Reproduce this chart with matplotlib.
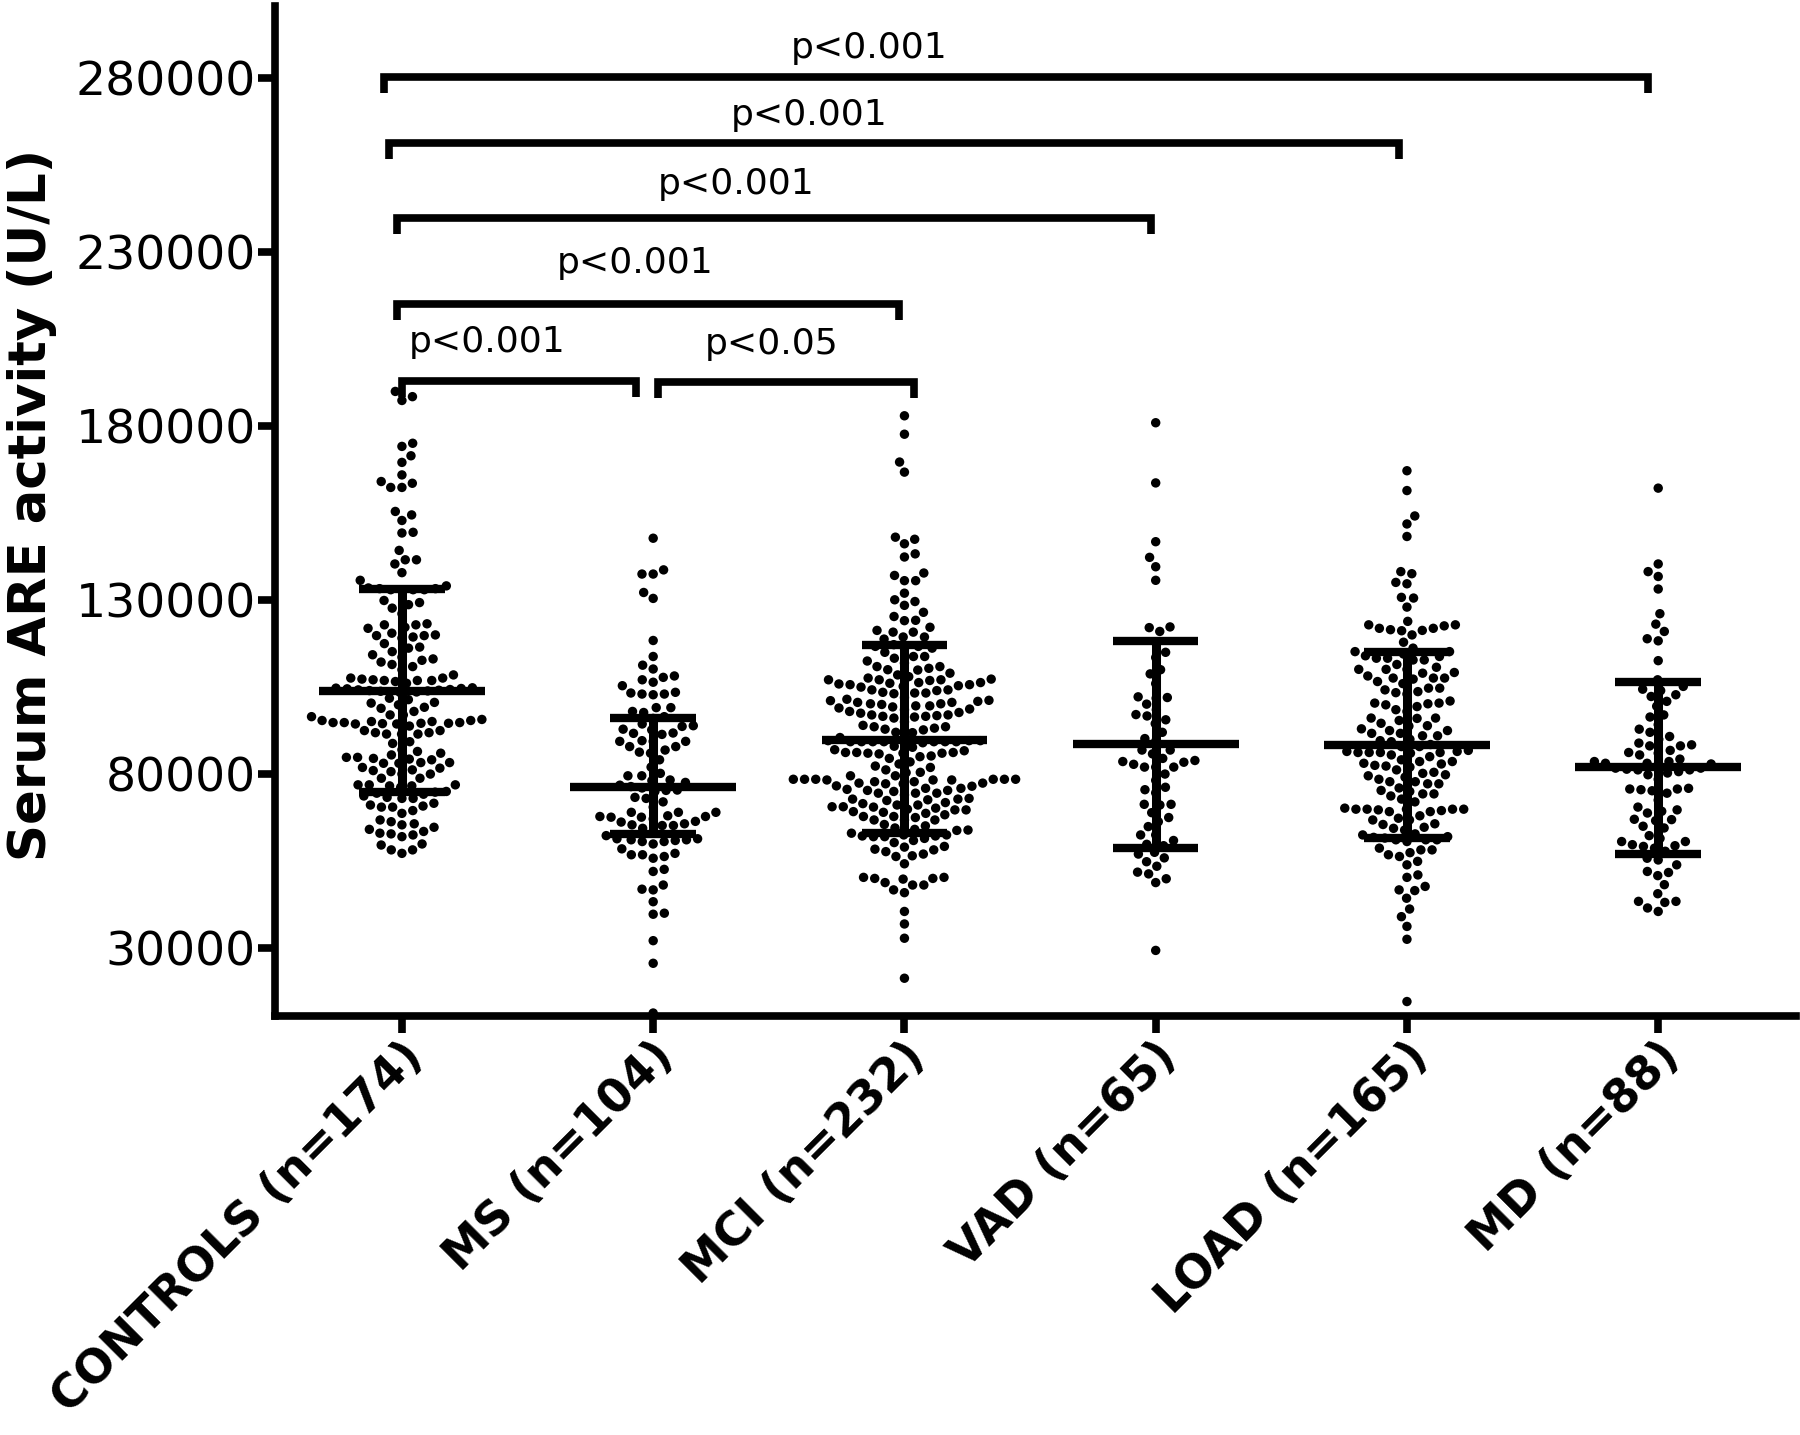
import numpy as np
import matplotlib.pyplot as plt
from matplotlib.transforms import ScaledTranslation

plt.rcParams['font.family'] = ['DejaVu Sans']

groups = ["CONTROLS (n=174)", "MS (n=104)", "MCI (n=232)",
          "VAD (n=65)", "LOAD (n=165)", "MD (n=88)"]

# serum ARE activity of every subject (thousands of U/L)
controls = [190.0, 188.5, 187.4,
            175.1, 174.2, 171.5, 169.6, 166.0, 164.1, 163.6, 162.4, 162.4,
            155.5, 154.5, 152.9, 149.5, 149.3, 144.3, 141.6, 141.6, 140.4, 137.9, 135.7,
            134.1, 133.5, 133.3, 133.3, 133.0, 133.0, 133.0, 133.0,
            129.9, 129.3, 128.7, 127.7, 126.1,
            123.2, 122.9, 122.9, 122.2, 121.9, 120.5, 120.0, 119.8, 119.8, 119.4, 119.1,
            116.5, 116.2, 115.2, 114.3, 113.6, 113.1, 112.7, 112.2, 110.9, 110.0,
            108.5, 107.6, 107.6, 107.3, 107.1, 106.9, 106.9, 106.9, 106.6, 106.1,
            104.8, 104.7, 104.6, 104.5, 104.3, 104.2, 104.1, 104.0, 103.9, 103.8, 103.6, 103.5,
            101.8, 101.4, 100.6, 100.4, 99.9, 99.2, 98.9,
            97.0, 97.0,
            96.5, 95.7, 95.4, 95.4, 95.1, 95.1, 94.8, 94.8, 94.8, 94.6, 94.6, 94.5, 94.4, 94.4, 93.8,
            92.5, 91.9, 91.9, 91.5, 91.5, 91.5,
            89.3, 88.8,
            86.5, 86.0, 85.5, 84.8, 84.8, 84.5, 84.3, 84.1, 83.3, 83.3, 83.1, 83.1,
            81.9, 81.7, 81.2, 81.0, 80.7, 80.0,
            78.8, 78.8,
            76.9, 76.9, 76.9, 76.6, 76.6, 76.2,
            75.0, 74.8, 74.5, 74.2, 73.7, 73.3, 73.0, 73.0,
            71.6, 71.1, 70.8, 70.5, 70.5,
            69.5, 68.7, 66.8, 66.3,
            65.7, 65.4, 64.7, 64.1, 63.5, 63.0, 62.8, 62.5, 62.0,
            59.9, 59.6, 58.2, 58.2, 57.2,
            117.5, 111.5, 98.0, 92.5, 87.0, 80.0]

ms = [147.8, 138.7, 137.5, 137.5, 132.2, 130.5, 118.4, 113.8, 111.3, 110.2,
      108.2, 107.8, 107.1, 106.4, 105.4,
      103.5, 103.3, 103.0, 103.0, 102.8,
      99.1, 99.1, 98.0, 97.7,
      96.5, 96.0, 94.4, 93.9, 93.7, 92.9, 92.7, 91.8,
      91.7, 91.4, 89.6, 89.4, 89.4, 89.4,
      87.9, 87.9, 86.9, 86.3, 86.0, 84.1,
      80.2, 79.5, 79.5, 78.3, 78.1, 77.6,
      76.8, 76.4, 76.0, 75.4, 75.3, 75.0,
      73.3, 73.0, 70.5,
      69.0, 69.0, 69.0, 67.8, 67.8, 67.6, 67.6, 67.1, 66.4, 66.2, 65.7, 65.4, 65.2, 65.2, 64.4,
      63.3, 62.3,
      61.4, 61.4, 61.1, 61.1, 60.9, 60.6, 60.6, 59.9,
      57.2, 56.8, 56.8, 56.3, 55.8,
      52.6, 52.0, 48.1, 46.9, 46.7, 43.3, 40.0, 39.7, 32.1, 25.6, 11.3,
      82.0, 72.0, 68.0, 58.5]

mci = [183.0, 177.7, 169.7, 166.8,
       148.1, 147.5, 146.2, 143.3, 142.4,
       137.8, 137.1, 135.6, 135.6,
       132.0, 130.1, 129.6, 128.5, 126.5,
       125.3, 124.2, 124.1,
       122.2, 121.3, 120.8, 120.8, 119.4, 119.4,
       118.8, 117.2, 116.7, 116.7, 116.2, 116.2,
       113.8, 113.8, 113.3, 111.9,
       110.9, 110.9,
       110.4, 109.9, 109.0,
       108.0, 107.6, 107.3, 107.1, 107.1, 107.1, 106.9, 106.3, 106.3, 106.1, 105.9,
       105.7, 105.7, 105.4, 105.2, 104.2, 104.2, 104.0, 103.3, 103.3, 103.1,
       101.5, 101.2, 101.1, 100.9, 100.6, 100.6, 100.2, 100.2, 99.6, 99.6, 99.3,
       99.0, 98.7, 98.0, 97.7, 97.5, 97.0, 96.8, 96.6, 96.6, 96.4, 96.1,
       93.6, 93.6, 93.2, 92.9, 92.7, 91.9,
       89.8, 89.6, 89.6, 89.6, 89.3, 89.3, 89.3, 89.3, 89.3, 89.3, 89.3, 89.0,
       87.7, 86.7, 86.2, 86.2, 86.2, 86.0, 86.0, 86.0, 85.8, 85.2, 84.5,
       82.9, 82.3, 81.9,
       81.2, 80.4, 79.5, 78.5, 78.5, 78.5, 78.5, 78.5, 78.5, 78.3, 78.3, 78.3,
       77.8, 77.8, 77.4, 77.4, 77.2, 77.2,
       76.6, 75.9, 75.9, 75.6, 75.3, 75.3, 75.0, 74.5, 74.5, 74.0,
       72.8, 72.8, 72.6, 72.4, 71.8, 71.1, 71.1, 70.6, 70.6, 70.5, 70.2, 69.9,
       69.7, 69.7, 69.2, 68.7, 68.3, 67.8, 67.8, 66.8, 66.8, 66.8,
       65.1, 64.1, 63.9, 63.8, 63.0, 62.5, 62.5, 62.2, 62.2, 62.0, 62.0,
       61.5, 60.9, 60.3,
       59.2, 59.0, 58.4, 58.2, 57.7, 57.0, 56.5, 56.3,
       54.2,
       50.3, 50.3, 50.0, 50.0, 49.8, 48.8, 48.1, 48.1, 46.7, 45.9,
       40.5, 36.9, 32.8, 21.3,
       115.0, 112.5, 110.0, 108.5, 105.0, 103.5, 102.0, 100.0, 98.5, 97.0,
       95.0, 94.0, 92.0, 90.5, 88.0, 87.0, 85.0, 83.5, 80.5, 79.5,
       76.5, 74.5, 73.0, 71.5, 69.0, 67.5, 65.5, 64.5]

vad = [181.0, 163.7, 146.8, 142.3, 139.6, 135.7,
       122.3, 122.1, 121.0,
       115.0, 113.5, 110.0, 108.8,
       102.2, 102.0, 101.8, 100.1,
       97.1, 96.7, 95.6, 94.5,
       90.2, 89.4, 86.9, 86.9,
       85.8, 84.5, 83.9, 83.6, 83.4, 82.8, 82.0, 82.0, 82.0,
       78.2, 76.2, 74.6, 71.3, 71.3, 71.1, 68.9, 66.3, 64.9,
       62.5, 62.5, 60.9, 59.8, 59.4,
       57.0, 55.9, 54.8, 53.5, 51.8, 51.3, 49.9, 48.8, 29.3,
       118.0, 106.0, 98.5, 92.0, 80.0, 75.5, 67.5, 57.5]

load = [167.2, 161.5, 154.2, 151.9, 148.3, 138.2, 137.6, 135.1, 134.7, 130.8, 130.6, 128.0,
        123.9, 122.9, 122.9, 122.6, 121.9, 121.9, 121.5, 121.3, 121.2, 120.0,
        117.9,
        116.2, 115.2, 115.2, 114.0, 113.8, 113.3, 113.3, 112.8, 112.8,
        110.7, 110.1, 110.1, 110.1, 109.2,
        108.2, 107.6, 107.6, 107.6, 107.3, 106.6,
        104.7, 104.7, 104.2, 103.7, 103.4,
        100.4, 100.4, 100.2, 99.9, 99.4, 98.0,
        96.1, 96.1, 95.4, 94.6, 93.9,
        93.8, 92.5, 92.5, 91.7, 91.7, 91.0, 91.0,
        89.6, 89.3, 87.9, 87.9, 86.8, 86.5, 86.5, 86.2, 86.2, 86.2, 86.2, 86.0, 85.5,
        84.1, 83.6, 83.6, 83.1, 82.9, 82.3, 82.0, 81.2,
        80.2, 79.8, 79.5, 79.1, 77.8, 77.8, 77.2, 77.2,
        75.3, 75.0, 74.3, 74.3, 73.7, 72.8,
        70.2, 69.9, 69.9, 69.9, 69.9, 69.9, 69.7, 69.5, 69.2, 69.2,
        67.3, 66.8, 66.8, 65.7,
        64.7, 64.4, 63.9,
        62.8, 62.5, 62.0, 61.8, 61.6, 61.1, 61.1, 61.1, 60.6,
        58.7, 58.2, 58.2, 57.4, 56.8, 56.3,
        54.9, 53.9, 51.0, 50.3,
        47.7, 46.7, 46.5, 44.3, 41.2, 39.0, 36.2, 32.5, 14.6,
        114.5, 111.5, 109.0, 106.0, 103.0, 101.0, 98.5, 96.0, 93.0, 90.0,
        88.5, 85.0, 82.5, 80.5, 78.5, 76.0, 72.0, 68.0, 65.5]

md = [162.2, 140.4, 138.2, 136.8, 133.2, 126.1, 123.1, 121.0, 118.9, 118.3, 112.6,
      107.1, 105.2, 104.4, 102.8, 102.3, 100.9,
      97.0, 96.4, 94.2, 92.9,
      90.8, 90.0, 88.9, 88.4, 88.1, 88.1,
      86.8, 86.2, 85.5,
      84.3, 83.6, 83.6, 83.1, 83.1, 82.9, 82.7, 81.7, 81.7, 81.4, 81.2, 81.2, 80.7, 80.3, 79.8,
      75.9, 75.7, 75.7, 75.5, 75.2, 74.5,
      70.5, 69.7, 69.3, 68.8, 67.0, 66.9, 66.6, 64.5,
      62.3, 60.6, 60.6, 59.7, 59.4, 59.2, 58.7, 57.8,
      55.8, 55.3, 53.9,
      52.0, 51.7, 50.8,
      48.2, 45.6,
      43.4, 43.4, 43.1, 41.5, 40.5,
      104.0, 99.5, 92.0, 86.0, 78.5, 72.5, 65.0, 61.5]

# centre line and whisker ends of each group (thousands of U/L)
centre = [104.0, 76.4, 89.8, 88.5, 88.4, 82.0]
low = [74.8, 62.8, 63.0, 58.7, 61.6, 57.0]
high = [133.3, 96.0, 117.0, 118.2, 115.2, 106.6]

# comparisons: (left group, right group, label) and bracket height (thousands of U/L)
pairs = [(0, 5, "p<0.001"), (0, 4, "p<0.001"), (0, 3, "p<0.001"),
         (0, 2, "p<0.001"), (0, 1, "p<0.001"), (1, 2, "p<0.05")]
bracket_y = [280.4, 261.3, 239.9, 215.1, 193.0, 192.7]

values = [controls, ms, mci, vad, load, md]

fig = plt.figure(figsize=(18, 14.35), dpi=100)
ax = fig.add_axes([0.1528, 0.292, 0.8452, 0.7038])
ax.set_xlim(-0.505, 5.55)
ax.set_ylim(10450, 300800)


def swarm(xc, vals, d=11.2):
    # spread points sideways (in pixels) so the dots do not overlap
    pts = ax.transData.transform(np.column_stack([np.full(len(vals), xc), vals]))
    ys = pts[:, 1]
    xs = np.zeros(len(vals))
    placed = []
    for k, i in enumerate(np.argsort(ys)):
        y = ys[i]
        near = [(px, py) for px, py in placed if abs(py - y) < d]
        cands = [0.0]
        for px, py in near:
            dx = np.sqrt(d * d - (py - y) ** 2)
            cands += [px + dx, px - dx]
        side = 1 if k % 2 == 0 else -1
        cands.sort(key=lambda c: (round(abs(c), 2), -side * c))
        for c in cands:
            if all((c - px) ** 2 + (py - y) ** 2 >= d * d - 1e-6 for px, py in near):
                xs[i] = c
                break
        placed.append((xs[i], y))
    back = ax.transData.inverted().transform(np.column_stack([pts[:, 0] + xs, ys]))
    return back[:, 0]


for i, vals in enumerate(values):
    v = np.array(vals) * 1000
    ax.scatter(swarm(i, v), v, s=46, c='black', edgecolors='none', zorder=2, clip_on=False)
    ax.plot([i - 0.33, i + 0.33], [centre[i] * 1000] * 2, color='black', lw=6,
            solid_capstyle='butt', zorder=3)
    ax.plot([i, i], [low[i] * 1000, high[i] * 1000], color='black', lw=6.5,
            solid_capstyle='butt', zorder=3)
    for e in (low[i], high[i]):
        ax.plot([i - 0.17, i + 0.17], [e * 1000] * 2, color='black', lw=6,
                solid_capstyle='butt', zorder=3)

# bracket ends and label positions (category units)
x_left = [-0.07, -0.05, -0.02, -0.02, 0.0, 1.02]
x_right = [4.96, 3.97, 2.98, 1.98, 0.93, 2.04]
label_x = [1.86, 1.62, 1.33, 0.93, 0.34, 1.47]
label_dy = [8.4, 8.2, 9.8, 11.9, 11.2, 11.0]
for k, (a, b, txt) in enumerate(pairs):
    y = bracket_y[k] * 1000
    ax.plot([x_left[k], x_left[k], x_right[k], x_right[k]], [y - 4500, y, y, y - 4500],
            color='black', lw=5.5, solid_joinstyle='miter', solid_capstyle='butt',
            clip_on=False, zorder=4)
    ax.text(label_x[k], y + label_dy[k] * 1000, txt, ha='center', va='center', fontsize=26)

ax.spines['top'].set_visible(False)
ax.spines['right'].set_visible(False)
ax.spines['left'].set_linewidth(5.5)
ax.spines['bottom'].set_linewidth(5.5)

yt = np.arange(30000, 280001, 50000)
ax.set_yticks(yt)
ax.set_yticklabels([str(t) for t in yt])
ax.tick_params(axis='y', direction='out', length=12, width=5.5, labelsize=34, pad=2)
ax.set_xticks(range(len(groups)))
ax.set_xticklabels(groups, rotation=45, ha='right', va='center',
                   rotation_mode='anchor', fontsize=33, fontweight='bold')
ax.tick_params(axis='x', direction='out', length=12, width=5.5, pad=12)
for lab in ax.get_xticklabels():
    lab.set_transform(lab.get_transform() + ScaledTranslation(0.14, 0, fig.dpi_scale_trans))

ax.set_ylabel('Serum ARE activity (U/L)', fontsize=37, fontweight='bold')
ax.yaxis.set_label_coords(-0.143, 0.506)

fig.savefig('out.png', dpi=100)
